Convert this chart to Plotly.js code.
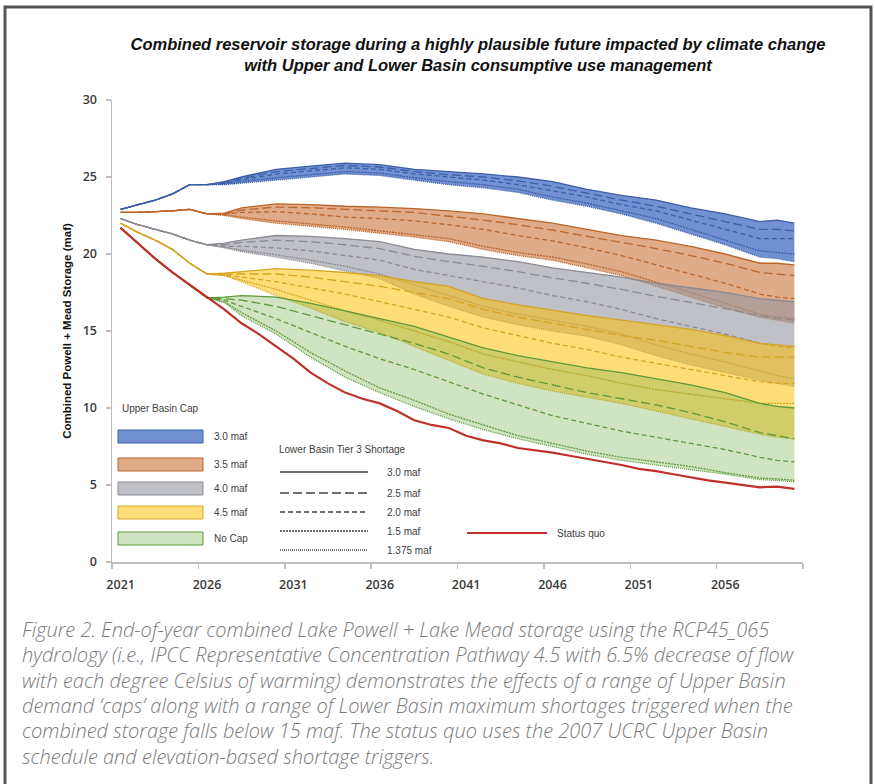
<!DOCTYPE html>
<html>
<head>
<meta charset="utf-8">
<script src="https://cdn.plot.ly/plotly-3.0.1.min.js"></script>
<style>
html,body{margin:0;padding:0;background:#fff;}
#chart{width:875px;height:784px;}
</style>
</head>
<body>
<div id="chart"></div>
<script>
// ---------------- DATA ----------------
const years = [2021,2022,2023,2024,2025,2026,2027,2028,2030,2032,2034,2036,2038,2040,2042,2044,2046,2048,2050,2052,2054,2056,2058,2059,2060];

// Upper Basin cap 3.0 maf (blue) - Lower Basin Tier 3 shortage levels
const cap30_s30   = [22.9,23.2,23.5,23.9,24.5,24.5,24.7,25.0,25.5,25.7,25.9,25.8,25.5,25.35,25.2,25.0,24.7,24.2,23.8,23.5,23.0,22.6,22.1,22.2,22.0];
const cap30_s25   = [22.9,23.2,23.5,23.9,24.5,24.5,24.65,24.9,25.35,25.55,25.75,25.65,25.35,25.15,25.0,24.75,24.4,23.95,23.5,23.1,22.6,22.1,21.6,21.6,21.5];
const cap30_s20   = [22.9,23.2,23.5,23.9,24.5,24.5,24.6,24.8,25.2,25.4,25.6,25.5,25.2,25.0,24.8,24.5,24.1,23.7,23.2,22.8,22.2,21.6,21.0,21.0,21.0];
const cap30_s15   = [22.9,23.2,23.5,23.9,24.5,24.5,24.55,24.7,24.95,25.15,25.35,25.25,24.95,24.7,24.5,24.2,23.7,23.3,22.8,22.3,21.6,20.9,20.2,20.1,20.0];
const cap30_s1375 = [22.9,23.2,23.5,23.9,24.5,24.5,24.5,24.6,24.8,25.0,25.2,25.1,24.8,24.5,24.3,24.0,23.5,23.1,22.6,22.0,21.3,20.6,19.8,19.7,19.5];

// Upper Basin cap 3.5 maf (orange)
const cap35_s30   = [22.7,22.7,22.75,22.8,22.9,22.6,22.65,23.0,23.25,23.2,23.1,23.05,22.95,22.8,22.6,22.3,22.0,21.6,21.2,20.9,20.5,20.0,19.4,19.4,19.3];
const cap35_s25   = [22.7,22.7,22.75,22.8,22.9,22.6,22.6,22.85,23.05,23.0,22.9,22.8,22.7,22.45,22.2,21.9,21.55,21.15,20.75,20.35,19.9,19.4,18.8,18.7,18.6];
const cap35_s20   = [22.7,22.7,22.75,22.8,22.9,22.6,22.6,22.7,22.75,22.6,22.4,22.3,22.15,21.9,21.6,21.2,20.85,20.4,19.9,19.3,18.7,18.1,17.4,17.2,17.1];
const cap35_s15   = [22.7,22.7,22.75,22.8,22.9,22.6,22.55,22.4,22.15,21.95,21.75,21.5,21.25,21.0,20.5,20.1,19.8,19.35,18.85,18.2,17.5,16.8,16.1,15.9,15.8];
const cap35_s1375 = [22.7,22.7,22.75,22.8,22.9,22.6,22.5,22.3,22.0,21.8,21.6,21.35,21.1,20.8,20.3,19.9,19.6,19.1,18.6,17.9,17.2,16.5,15.9,15.7,15.5];

// Upper Basin cap 4.0 maf (gray)
const cap40_s30   = [22.3,21.9,21.6,21.3,20.9,20.6,20.7,20.9,21.2,21.15,21.0,20.8,20.3,20.0,19.8,19.5,19.1,18.8,18.5,18.1,17.8,17.5,17.1,17.0,16.9];
const cap40_s25   = [22.3,21.9,21.6,21.3,20.9,20.6,20.6,20.75,20.9,20.8,20.6,20.35,19.85,19.5,19.2,18.85,18.45,18.1,17.7,17.25,16.85,16.45,16.0,15.8,15.7];
const cap40_s20   = [22.3,21.9,21.6,21.3,20.9,20.6,20.5,20.5,20.4,20.2,19.9,19.6,19.0,18.6,18.2,17.8,17.3,16.9,16.4,15.8,15.3,14.8,14.2,14.0,13.9];
const cap40_s15   = [22.3,21.9,21.6,21.3,20.9,20.6,20.45,20.25,19.95,19.6,19.2,18.7,18.0,17.3,16.6,16.1,15.7,15.3,14.8,14.1,13.5,13.0,12.4,12.1,11.9];
const cap40_s1375 = [22.3,21.9,21.6,21.3,20.9,20.6,20.4,20.15,19.8,19.4,18.9,18.4,17.4,16.6,15.9,15.4,15.0,14.65,14.1,13.4,12.8,12.3,11.8,11.6,11.4];

// Upper Basin cap 4.5 maf (yellow)
const cap45_s30   = [22.0,21.4,20.9,20.3,19.4,18.7,18.75,18.85,19.05,18.95,18.8,18.6,18.2,17.9,17.1,16.7,16.35,16.0,15.7,15.4,15.1,14.7,14.2,14.1,14.0];
const cap45_s25   = [22.0,21.4,20.9,20.3,19.4,18.7,18.7,18.7,18.7,18.5,18.2,17.9,17.5,17.1,16.4,15.9,15.5,15.1,14.7,14.4,14.0,13.6,13.3,13.3,13.3];
const cap45_s20   = [22.0,21.4,20.9,20.3,19.4,18.7,18.65,18.5,18.2,17.8,17.4,16.9,16.4,15.9,15.2,14.7,14.2,13.8,13.3,12.9,12.5,12.1,11.7,11.6,11.6];
const cap45_s15   = [22.0,21.4,20.9,20.3,19.4,18.7,18.6,18.3,17.7,17.0,16.3,15.7,15.0,14.3,13.5,13.0,12.5,12.1,11.6,11.2,10.9,10.6,10.3,10.3,10.3];
const cap45_s1375 = [22.0,21.4,20.9,20.3,19.4,18.7,18.6,18.2,17.3,16.5,15.6,14.9,14.0,13.1,12.2,11.6,11.1,10.7,10.3,9.8,9.3,8.8,8.3,8.1,8.0];

// No cap (green)
const nocap_s30   = [21.7,20.7,19.7,18.8,18.0,17.15,17.2,17.3,17.2,16.8,16.3,15.8,15.3,14.6,13.9,13.4,13.0,12.6,12.3,11.9,11.5,11.0,10.3,10.1,10.0];
const nocap_s25   = [21.7,20.7,19.7,18.8,18.0,17.15,17.1,17.0,16.6,16.0,15.4,14.8,14.2,13.5,12.6,12.0,11.5,11.0,10.6,10.2,9.7,9.1,8.4,8.2,8.0];
const nocap_s20   = [21.7,20.7,19.7,18.8,18.0,17.15,17.0,16.6,15.8,14.9,14.0,13.2,12.5,11.7,10.9,10.2,9.5,9.0,8.5,8.1,7.7,7.3,6.8,6.6,6.5];
const nocap_s15   = [21.7,20.7,19.7,18.8,18.0,17.15,16.9,16.2,15.0,13.6,12.4,11.3,10.5,9.6,8.9,8.2,7.7,7.2,6.8,6.5,6.2,5.8,5.45,5.4,5.3];
const nocap_s1375 = [21.7,20.7,19.7,18.8,18.0,17.15,16.85,16.0,14.8,13.3,12.0,11.0,10.1,9.3,8.6,8.0,7.5,7.0,6.6,6.3,6.0,5.7,5.35,5.3,5.2];

// Status quo (red)
const statusYears = [2021,2022,2023,2024,2025,2026,2027,2028,2029,2030,2031,2032,2033,2034,2035,2036,2037,2038,2039,2040,2041,2042,2043,2044,2045,2046,2047,2048,2049,2050,2051,2052,2053,2054,2055,2056,2057,2058,2059,2060];
const statusQuo = [21.7,20.7,19.7,18.8,18.0,17.2,16.4,15.5,14.8,14.0,13.2,12.3,11.6,11.0,10.6,10.3,9.8,9.2,8.9,8.7,8.2,7.9,7.7,7.4,7.25,7.1,6.9,6.7,6.5,6.3,6.05,5.9,5.7,5.5,5.3,5.15,5.0,4.85,4.9,4.75];

// Labels
const capLabels = ["3.0 maf","3.5 maf","4.0 maf","4.5 maf","No Cap"];
const shortageLabels = ["3.0 maf","2.5 maf","2.0 maf","1.5 maf","1.375 maf"];
const xTickYears = [2021,2026,2031,2036,2041,2046,2051,2056];
const xTickText = ["2021","2026","2031","2036","2041","2046","2051","2056"];
const yTicks = [0,5,10,15,20,25,30];

// ---------------- STYLE ----------------
const bands = [
  {lines:[cap30_s30,cap30_s25,cap30_s20,cap30_s15,cap30_s1375], fill:'rgba(68,110,196,0.76)', line:'#3b5ea6'},
  {lines:[cap35_s30,cap35_s25,cap35_s20,cap35_s15,cap35_s1375], fill:'rgba(200,110,50,0.58)', line:'#bd6528'},
  {lines:[cap40_s30,cap40_s25,cap40_s20,cap40_s15,cap40_s1375], fill:'rgba(150,152,162,0.6)', line:'#8a8b93'},
  {lines:[cap45_s30,cap45_s25,cap45_s20,cap45_s15,cap45_s1375], fill:'rgba(255,192,0,0.52)', line:'#d6a520'},
  {lines:[nocap_s30,nocap_s25,nocap_s20,nocap_s15,nocap_s1375], fill:'rgba(112,173,71,0.33)', line:'#5b9a3a'}
];
const dashes = ['solid','9px,4px','5px,3px','2px,1px','1px,1px'];

const traces = [];
bands.forEach(b => {
  traces.push({x:years, y:b.lines[4], type:'scatter', mode:'lines', line:{color:b.line, width:1.3, dash:dashes[4]}});
  traces.push({x:years, y:b.lines[0], type:'scatter', mode:'lines', fill:'tonexty', fillcolor:b.fill, line:{color:b.line, width:1.3, dash:dashes[0]}});
  for (let k=1;k<4;k++){
    traces.push({x:years, y:b.lines[k], type:'scatter', mode:'lines', line:{color:b.line, width:1.3, dash:dashes[k]}});
  }
});
traces.push({x:statusYears, y:statusQuo, type:'scatter', mode:'lines', line:{color:'#c0302a', width:2.2}});

// pixel -> paper helpers (plot area: left 112, right 803, top 100, bottom 562)
const L=112, R=72, T=100, B=222, W=875-L-R, H=784-T-B;
const PX = x => (x-L)/W;
const PY = y => (784-B-y)/H;

const shapes = [];
const annotations = [];
const legFont = {family:'Liberation Sans, Arial, sans-serif', size:10, color:'#404040'};

// frame
shapes.push({type:'rect', xref:'paper', yref:'paper', x0:PX(5), x1:PX(871), y0:PY(7), y1:PY(800), line:{color:'#555555', width:3}, fillcolor:'rgba(0,0,0,0)', layer:'below'});

// Upper basin cap legend
annotations.push({xref:'paper', yref:'paper', x:PX(120), y:PY(408), xanchor:'left', yanchor:'middle', text:'Upper Basin Cap', showarrow:false, font:legFont});
const swY = [436.5, 464.5, 488.5, 512.5, 538.5];
bands.forEach((b,i) => {
  shapes.push({type:'rect', xref:'paper', yref:'paper', x0:PX(118), x1:PX(203), y0:PY(swY[i]-6.5), y1:PY(swY[i]+6.5), fillcolor:b.fill, line:{color:b.line, width:1}});
  annotations.push({xref:'paper', yref:'paper', x:PX(212), y:PY(swY[i]), xanchor:'left', yanchor:'middle', text:capLabels[i], showarrow:false, font:legFont});
});

// Lower basin shortage legend
annotations.push({xref:'paper', yref:'paper', x:PX(277), y:PY(449), xanchor:'left', yanchor:'middle', text:'Lower Basin Tier 3 Shortage', showarrow:false, font:legFont});
const lnY = [472, 493, 512, 531, 550];
dashes.forEach((d,i) => {
  shapes.push({type:'line', xref:'paper', yref:'paper', x0:PX(280), x1:PX(368), y0:PY(lnY[i]), y1:PY(lnY[i]), line:{color:'#404040', width:1.6, dash:d}});
  annotations.push({xref:'paper', yref:'paper', x:PX(385), y:PY(lnY[i]), xanchor:'left', yanchor:'middle', text:shortageLabels[i], showarrow:false, font:legFont});
});

// status quo legend
shapes.push({type:'line', xref:'paper', yref:'paper', x0:PX(467), x1:PX(547), y0:PY(533), y1:PY(533), line:{color:'#c0302a', width:2.2}});
annotations.push({xref:'paper', yref:'paper', x:PX(555), y:PY(533), xanchor:'left', yanchor:'middle', text:'Status quo', showarrow:false, font:legFont});

// caption
const caption = [
  "Figure 2. End-of-year combined Lake Powell + Lake Mead storage using the RCP45_065",
  "hydrology (i.e., IPCC Representative Concentration Pathway 4.5 with 6.5% decrease of flow",
  "with each degree Celsius of warming) demonstrates the effects of a range of Upper Basin",
  "demand \u2018caps\u2019 along with a range of Lower Basin maximum shortages triggered when the",
  "combined storage falls below 15 maf. The status quo uses the 2007 UCRC Upper Basin",
  "schedule and elevation-based shortage triggers."
];
const capY = [629, 654.5, 680, 705, 730.5, 756];
caption.forEach((t,i) => {
  annotations.push({xref:'paper', yref:'paper', x:PX(20), y:PY(capY[i]), xanchor:'left', yanchor:'middle', text:t, showarrow:false,
    font:{family:'"Open Sans", Lato, sans-serif', size:20, style:'italic', weight:300, color:'#7a7a7a'}});
});

const axisFont = {family:'"Open Sans", "Liberation Sans", sans-serif', size:12.5, color:'#3a3a3a', weight:600};

const layout = {
  width:875, height:784,
  margin:{l:L, r:R, t:T, b:B},
  paper_bgcolor:'#ffffff', plot_bgcolor:'#ffffff',
  showlegend:false, hovermode:false,
  title:{
    text:'Combined reservoir storage during a highly plausible future impacted by climate change<br>with Upper and Lower Basin consumptive use management',
    font:{family:'"Liberation Sans", Arial, sans-serif', size:16.5, weight:'bold', style:'italic', color:'#111111'},
    xref:'container', x:478/875, xanchor:'center', yref:'container', y:1-50/784, yanchor:'top'
  },
  xaxis:{
    range:[2020.5, 2060.5], showgrid:false, zeroline:false,
    showline:true, linecolor:'#bdbdbd', linewidth:1.5,
    tickmode:'array', tickvals:xTickYears, ticktext:xTickText, ticks:'',
    ticklabelstandoff:10,
    tickfont:axisFont,
    minor:{tickmode:'array', tickvals:[2020.5,2025.5,2030.5,2035.5,2040.5,2045.5,2050.5,2055.5,2060.5], ticks:'outside', ticklen:5, tickcolor:'#bdbdbd', tickwidth:1.5, showgrid:false}
  },
  yaxis:{
    range:[0,30], showgrid:false, zeroline:false,
    showline:true, linecolor:'#bdbdbd', linewidth:1.5,
    tickmode:'array', tickvals:yTicks, ticks:'outside', ticklen:5, tickcolor:'#bdbdbd', tickwidth:1.5,
    ticklabelstandoff:6,
    tickfont:axisFont,
    title:{text:'Combined Powell + Mead Storage (maf)', standoff:8,
      font:{family:'"Liberation Sans", Arial, sans-serif', size:11.5, weight:'bold', color:'#111111'}}
  },
  shapes:shapes,
  annotations:annotations
};

Plotly.newPlot('chart', traces, layout, {staticPlot:true, displayModeBar:false});
</script>
</body>
</html>
